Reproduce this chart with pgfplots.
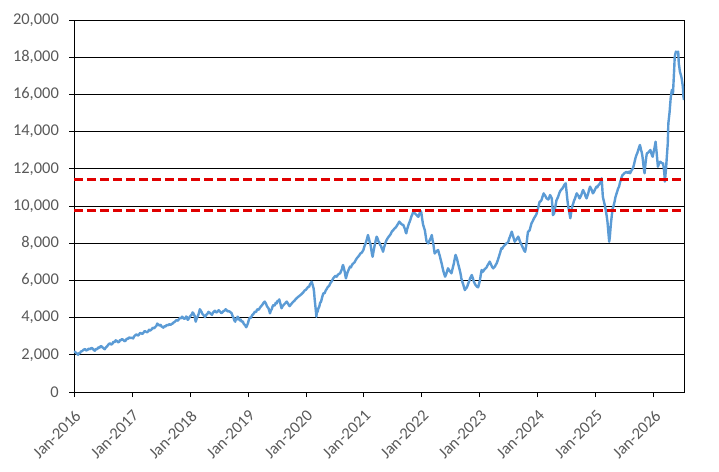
\documentclass[border=0pt]{standalone}
\usepackage{pgfplots}
\pgfplotsset{compat=1.18}
\usepackage{fontspec}
\setmainfont{Carlito}
\definecolor{lineblue}{HTML}{5B9BD5}
\definecolor{ticklab}{HTML}{595959}
\definecolor{refred}{HTML}{E00000}
\begin{document}
\begin{tikzpicture}
\begin{axis}[name=ax, scale only axis, width=610bp, height=372bp,
  xmin=2016, xmax=2026.52, ymin=0, ymax=20000,
  ytick={0,2000,...,20000}, xtick={2016,2017,...,2026},
  xticklabels={Jan-2016,Jan-2017,Jan-2018,Jan-2019,Jan-2020,Jan-2021,Jan-2022,Jan-2023,Jan-2024,Jan-2025,Jan-2026},
  ymajorgrids, grid style={black, line width=0.8bp},
  axis line style={black, line width=0.8bp},
  tick style={black, line width=0.8bp},
  tick align=outside, xtick pos=left, ytick pos=left,
  major tick length=5bp,
  scaled y ticks=false,
  yticklabel style={/pgf/number format/fixed, /pgf/number format/1000 sep={,}, /pgf/number format/precision=0, /pgf/number format/assume math mode=true},
  ticklabel style={font=\fontsize{16.5}{19}\selectfont, text=ticklab},
  x tick label style={rotate=45, anchor=north east, inner sep=0pt},
  y tick label style={inner sep=0pt},
  xticklabel shift=12bp, yticklabel shift=10bp,
]
\addplot[lineblue, line width=2.4bp, line join=round] coordinates {
(2016.00,2200)(2016.015,2150)(2016.03,2120)(2016.05,2060)(2016.07,2000)(2016.085,2100)(2016.10,2080)(2016.12,2180)(2016.14,2200)(2016.165,2270)(2016.19,2310)(2016.21,2230)(2016.23,2260)(2016.255,2330)(2016.28,2300)(2016.30,2370)(2016.32,2340)(2016.34,2260)(2016.36,2220)(2016.38,2320)(2016.40,2300)(2016.42,2400)(2016.44,2380)(2016.46,2470)(2016.48,2440)(2016.495,2390)(2016.51,2350)(2016.53,2300)(2016.55,2400)(2016.57,2450)(2016.595,2560)(2016.62,2620)(2016.64,2550)(2016.66,2580)(2016.68,2700)(2016.70,2680)(2016.72,2780)(2016.74,2740)(2016.76,2670)(2016.78,2700)(2016.795,2800)(2016.81,2780)(2016.83,2850)(2016.85,2800)(2016.87,2730)(2016.89,2760)(2016.91,2870)(2016.93,2850)(2016.95,2940)(2016.97,2900)
(2017.00,2920)(2017.02,2880)(2017.04,3000)(2017.06,3060)(2017.08,3100)(2017.10,3030)(2017.12,3080)(2017.14,3180)(2017.16,3150)(2017.18,3120)(2017.20,3200)(2017.22,3280)(2017.24,3240)(2017.26,3210)(2017.28,3260)(2017.295,3350)(2017.31,3300)(2017.325,3330)(2017.34,3370)(2017.36,3460)(2017.38,3420)(2017.40,3490)(2017.42,3550)(2017.435,3680)(2017.45,3640)(2017.465,3600)(2017.48,3560)(2017.495,3610)(2017.51,3520)(2017.525,3500)(2017.54,3460)(2017.56,3540)(2017.58,3520)(2017.60,3610)(2017.62,3580)(2017.64,3650)(2017.66,3600)(2017.68,3650)(2017.70,3680)(2017.72,3740)(2017.74,3780)(2017.755,3830)(2017.77,3870)(2017.79,3830)(2017.81,3920)(2017.83,3990)(2017.85,3960)(2017.865,4050)(2017.88,4000)(2017.90,3930)(2017.92,3960)(2017.935,4060)(2017.95,4020)(2017.96,3880)(2017.97,3900)(2017.985,3980)
(2018.00,4050)(2018.015,4120)(2018.03,4150)(2018.045,4280)(2018.06,4230)(2018.07,4150)(2018.08,4100)(2018.09,3900)(2018.10,3780)(2018.115,3950)(2018.13,4050)(2018.15,4200)(2018.17,4450)(2018.185,4380)(2018.20,4300)(2018.215,4200)(2018.23,4150)(2018.245,4100)(2018.26,4020)(2018.28,4150)(2018.30,4200)(2018.32,4310)(2018.34,4260)(2018.36,4200)(2018.38,4150)(2018.40,4280)(2018.43,4370)(2018.45,4280)(2018.47,4300)(2018.495,4400)(2018.52,4320)(2018.54,4240)(2018.56,4280)(2018.58,4360)(2018.60,4380)(2018.615,4450)(2018.63,4410)(2018.65,4330)(2018.67,4350)(2018.695,4300)(2018.72,4230)(2018.735,4080)(2018.75,4000)(2018.765,3850)(2018.78,3780)(2018.795,3950)(2018.81,3900)(2018.82,4050)(2018.83,4020)(2018.845,3920)(2018.86,3850)(2018.875,3900)(2018.89,3780)(2018.91,3800)(2018.93,3650)(2018.95,3600)(2018.97,3480)(2018.985,3580)
(2019.00,3700)(2019.015,3880)(2019.03,4000)(2019.05,3980)(2019.07,4120)(2019.095,4200)(2019.12,4320)(2019.14,4300)(2019.16,4450)(2019.185,4420)(2019.21,4550)(2019.23,4620)(2019.25,4700)(2019.27,4800)(2019.29,4860)(2019.31,4750)(2019.33,4600)(2019.355,4500)(2019.38,4230)(2019.395,4380)(2019.41,4450)(2019.425,4600)(2019.44,4680)(2019.46,4650)(2019.48,4800)(2019.495,4760)(2019.51,4900)(2019.525,4880)(2019.54,4980)(2019.55,4850)(2019.56,4750)(2019.57,4600)(2019.58,4500)(2019.60,4620)(2019.62,4700)(2019.645,4780)(2019.67,4860)(2019.685,4780)(2019.70,4700)(2019.71,4650)(2019.72,4620)(2019.74,4700)(2019.76,4780)(2019.78,4850)(2019.80,4900)(2019.82,4980)(2019.84,5040)(2019.86,5100)(2019.88,5150)(2019.90,5200)(2019.92,5250)(2019.935,5300)(2019.95,5340)(2019.975,5450)
(2020.00,5500)(2020.02,5580)(2020.04,5660)(2020.055,5650)(2020.07,5800)(2020.085,5850)(2020.10,5930)(2020.11,5820)(2020.12,5700)(2020.13,5600)(2020.14,5390)(2020.15,5000)(2020.16,4700)(2020.17,4400)(2020.18,4050)(2020.19,4350)(2020.20,4300)(2020.215,4500)(2020.23,4590)(2020.245,4800)(2020.26,4850)(2020.28,5100)(2020.30,5310)(2020.32,5300)(2020.34,5450)(2020.36,5550)(2020.38,5660)(2020.40,5700)(2020.42,5850)(2020.445,5950)(2020.47,6110)(2020.49,6180)(2020.51,6250)(2020.53,6200)(2020.55,6300)(2020.57,6350)(2020.59,6380)(2020.605,6500)(2020.62,6600)(2020.63,6750)(2020.64,6830)(2020.655,6650)(2020.67,6450)(2020.68,6250)(2020.69,6110)(2020.705,6300)(2020.72,6450)(2020.74,6600)(2020.76,6740)(2020.775,6700)(2020.79,6800)(2020.805,6880)(2020.82,6920)(2020.84,6980)(2020.86,7100)(2020.88,7200)(2020.90,7270)(2020.92,7350)(2020.94,7450)(2020.965,7500)(2020.99,7630)
(2021.01,7850)(2021.03,8000)(2021.05,8200)(2021.07,8440)(2021.08,8300)(2021.09,8200)(2021.10,8050)(2021.11,7990)(2021.12,7800)(2021.13,7600)(2021.14,7400)(2021.15,7270)(2021.165,7550)(2021.18,7800)(2021.20,8100)(2021.22,8350)(2021.235,8250)(2021.25,8100)(2021.265,8050)(2021.28,7900)(2021.295,7850)(2021.31,7700)(2021.32,7650)(2021.33,7540)(2021.345,7750)(2021.36,7900)(2021.375,8050)(2021.39,8170)(2021.415,8300)(2021.44,8400)(2021.46,8480)(2021.48,8620)(2021.505,8700)(2021.53,8800)(2021.55,8850)(2021.57,8950)(2021.59,9050)(2021.61,9160)(2021.625,9100)(2021.64,9050)(2021.66,9000)(2021.68,8980)(2021.695,8850)(2021.71,8750)(2021.72,8600)(2021.73,8530)(2021.745,8750)(2021.76,8900)(2021.775,9050)(2021.79,9160)(2021.805,9300)(2021.82,9450)(2021.835,9550)(2021.85,9690)(2021.865,9650)(2021.88,9600)(2021.895,9550)(2021.91,9510)(2021.925,9450)(2021.94,9420)(2021.955,9550)(2021.97,9690)(2021.98,9720)(2021.99,9650)
(2022.005,9300)(2022.02,9000)(2022.035,8850)(2022.05,8710)(2022.065,8400)(2022.08,8100)(2022.095,8050)(2022.11,7990)(2022.125,8100)(2022.14,8200)(2022.155,8300)(2022.17,8440)(2022.185,8150)(2022.20,7900)(2022.21,7650)(2022.22,7450)(2022.235,7500)(2022.25,7550)(2022.265,7600)(2022.28,7630)(2022.295,7450)(2022.31,7300)(2022.325,7100)(2022.34,6920)(2022.355,6700)(2022.37,6500)(2022.385,6350)(2022.40,6200)(2022.415,6300)(2022.43,6450)(2022.44,6550)(2022.45,6650)(2022.465,6580)(2022.48,6500)(2022.495,6450)(2022.51,6380)(2022.53,6650)(2022.55,6900)(2022.565,7150)(2022.58,7370)(2022.595,7250)(2022.61,7100)(2022.62,6950)(2022.63,6830)(2022.645,6650)(2022.66,6450)(2022.67,6300)(2022.68,6110)(2022.695,5950)(2022.71,5800)(2022.725,5650)(2022.74,5480)(2022.755,5550)(2022.77,5600)(2022.785,5700)(2022.80,5840)(2022.815,5950)(2022.83,6100)(2022.845,6200)(2022.86,6290)(2022.875,6150)(2022.89,6000)(2022.90,5900)(2022.91,5840)(2022.925,5750)(2022.94,5700)(2022.955,5650)(2022.97,5630)(2022.985,5800)
(2023.00,6000)(2023.015,6300)(2023.03,6560)(2023.045,6450)(2023.06,6500)(2023.08,6600)(2023.10,6650)(2023.115,6700)(2023.13,6800)(2023.15,6900)(2023.17,7010)(2023.185,6900)(2023.20,6800)(2023.215,6700)(2023.23,6650)(2023.245,6700)(2023.26,6750)(2023.275,6850)(2023.29,6920)(2023.31,7100)(2023.33,7300)(2023.35,7500)(2023.37,7730)(2023.385,7700)(2023.40,7800)(2023.415,7850)(2023.43,7900)(2023.445,7950)(2023.46,8000)(2023.475,8020)(2023.49,8080)(2023.505,8250)(2023.52,8350)(2023.535,8500)(2023.55,8620)(2023.565,8450)(2023.58,8300)(2023.59,8200)(2023.60,8080)(2023.615,8150)(2023.63,8200)(2023.645,8280)(2023.66,8350)(2023.675,8250)(2023.69,8100)(2023.705,8000)(2023.72,7900)(2023.735,7800)(2023.75,7700)(2023.765,7600)(2023.78,7540)(2023.795,7800)(2023.81,8100)(2023.82,8400)(2023.83,8620)(2023.845,8650)(2023.86,8710)(2023.875,8900)(2023.89,9070)(2023.905,9150)(2023.92,9250)(2023.935,9350)(2023.95,9420)(2023.965,9500)(2023.98,9600)(2023.995,9800)
(2024.01,9960)(2024.02,10100)(2024.03,10230)(2024.045,10250)(2024.06,10300)(2024.08,10500)(2024.10,10680)(2024.11,10600)(2024.12,10590)(2024.135,10500)(2024.15,10410)(2024.165,10380)(2024.18,10350)(2024.195,10450)(2024.21,10590)(2024.225,10500)(2024.24,10410)(2024.25,10000)(2024.26,9510)(2024.27,9550)(2024.28,9600)(2024.30,9950)(2024.32,10300)(2024.335,10400)(2024.35,10500)(2024.365,10650)(2024.38,10770)(2024.395,10850)(2024.41,10900)(2024.425,10950)(2024.44,11040)(2024.46,11150)(2024.48,11220)(2024.49,10900)(2024.50,10600)(2024.51,10300)(2024.52,10050)(2024.53,9850)(2024.54,9700)(2024.55,9500)(2024.56,9340)(2024.57,9550)(2024.58,9800)(2024.595,10000)(2024.61,10140)(2024.625,10300)(2024.64,10400)(2024.655,10550)(2024.67,10680)(2024.685,10600)(2024.70,10550)(2024.71,10450)(2024.72,10410)(2024.735,10500)(2024.75,10600)(2024.765,10750)(2024.78,10860)(2024.795,10750)(2024.81,10650)(2024.825,10500)(2024.84,10410)(2024.855,10550)(2024.87,10700)(2024.885,10900)(2024.90,11040)(2024.915,10950)(2024.93,10850)(2024.94,10750)(2024.95,10680)(2024.965,10750)(2024.98,10850)(2024.995,10950)
(2025.01,11040)(2025.025,11000)(2025.04,11100)(2025.055,11150)(2025.07,11220)(2025.085,11300)(2025.10,11490)(2025.11,11000)(2025.12,10500)(2025.135,10300)(2025.15,10100)(2025.16,9950)(2025.17,9780)(2025.185,9500)(2025.20,9160)(2025.215,8600)(2025.23,8080)(2025.24,8300)(2025.25,8700)(2025.26,9070)(2025.275,9500)(2025.29,9870)(2025.305,10000)(2025.32,10200)(2025.33,10350)(2025.34,10500)(2025.355,10650)(2025.37,10800)(2025.385,10950)(2025.40,11040)(2025.415,11250)(2025.43,11400)(2025.445,11550)(2025.46,11670)(2025.475,11700)(2025.49,11760)(2025.51,11800)(2025.53,11840)(2025.545,11780)(2025.56,11800)(2025.575,11850)(2025.59,11760)(2025.605,11850)(2025.62,11940)(2025.63,11980)(2025.64,12030)(2025.655,12200)(2025.67,12400)(2025.685,12600)(2025.70,12740)(2025.715,12850)(2025.73,13000)(2025.745,13150)(2025.76,13280)(2025.77,13150)(2025.78,13000)(2025.79,12900)(2025.80,12740)(2025.81,12500)(2025.82,12200)(2025.83,11950)(2025.84,11760)(2025.85,12100)(2025.86,12400)(2025.87,12650)(2025.88,12830)(2025.895,12850)(2025.91,12900)(2025.925,12950)(2025.94,13010)(2025.95,12900)(2025.96,12800)(2025.97,12700)(2025.98,12650)(2025.995,12900)
(2026.01,13100)(2026.03,13460)(2026.05,12800)(2026.07,12110)(2026.09,12300)(2026.11,12380)(2026.14,12300)(2026.16,12290)(2026.18,11800)(2026.19,11310)(2026.21,12000)(2026.22,12470)(2026.24,13370)(2026.25,14450)(2026.27,15000)(2026.29,15790)(2026.31,16240)(2026.33,16060)(2026.35,17300)(2026.36,18030)(2026.38,18300)(2026.40,18250)(2026.42,18300)(2026.43,17670)(2026.45,17220)(2026.47,17000)(2026.48,16860)(2026.50,16420)(2026.51,15900)(2026.52,15700)
};
\addplot[refred, line width=3bp, dash pattern=on 9bp off 4bp] coordinates {(2016,11400)(2026.52,11400)};
\addplot[refred, line width=3bp, dash pattern=on 9bp off 4bp] coordinates {(2016,9750)(2026.52,9750)};
\end{axis}
\pgfresetboundingbox
\useasboundingbox (ax.south west) ++(-74bp,-80bp) rectangle ++(719bp,472bp);
\end{tikzpicture}
\end{document}
